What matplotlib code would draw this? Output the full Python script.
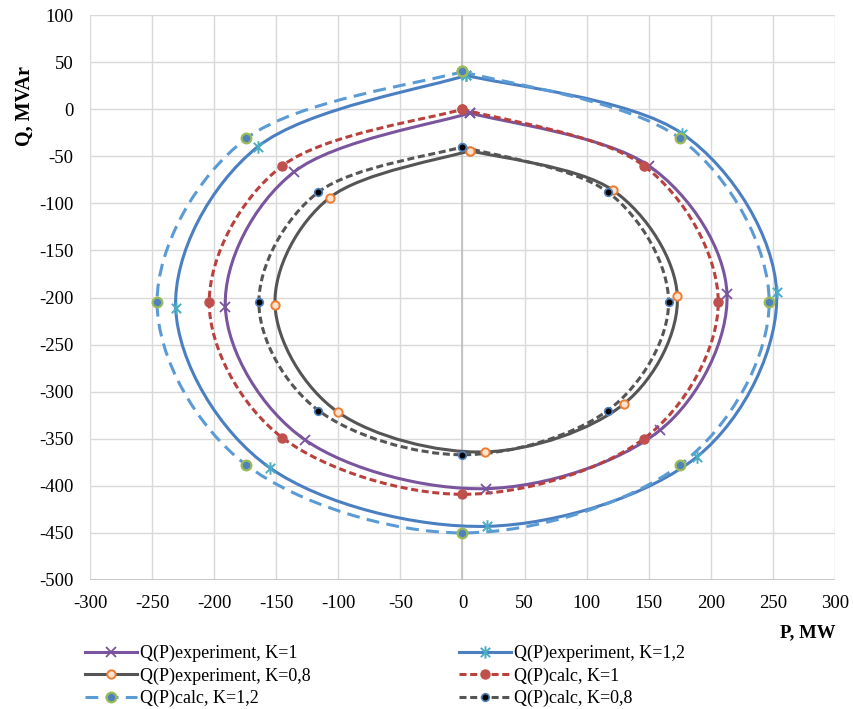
import matplotlib
matplotlib.use("Agg")
import matplotlib.pyplot as plt
from matplotlib.path import Path
from matplotlib.patches import PathPatch
from matplotlib.lines import Line2D

plt.rcParams["font.family"] = ["Liberation Serif", "DejaVu Serif"]
plt.rcParams["axes.unicode_minus"] = False

# ── Data (closed loops: top -> right -> bottom -> left -> top) ──
p_exp_k1 = [6, 150, 213, 159, 19, -127, -191, -136, 6]
q_exp_k1 = [-4, -60, -196, -341, -403, -351, -210, -67, -4]

p_exp_k12 = [3, 177, 253, 189, 20, -155, -231, -165, 3]
q_exp_k12 = [36, -26, -194, -369, -443, -381, -211, -40, 36]

p_exp_k08 = [6, 121, 173, 130, 18, -100, -151, -107, 6]
q_exp_k08 = [-44, -86, -198, -313, -364, -322, -208, -94, -44]

p_calc_k1 = [0, 146, 206, 146, 0, -145, -204, -145, 0]
q_calc_k1 = [0, -60, -205, -350, -409, -349, -205, -60, 0]

p_calc_k12 = [0, 175, 247, 175, 0, -174, -246, -174, 0]
q_calc_k12 = [40, -31, -205, -378, -450, -378, -205, -31, 40]

p_calc_k08 = [0, 117, 166, 117, 0, -116, -164, -116, 0]
q_calc_k08 = [-40, -88, -205, -320, -367, -320, -205, -88, -40]

x_ticks = list(range(-300, 301, 50))
y_ticks = list(range(-500, 101, 50))

# asterisk marker like Excel's star (vertical bar + x)
star = Path([(0, -1), (0, 1), (-0.75, -0.75), (0.75, 0.75), (-0.75, 0.75), (0.75, -0.75)],
            [Path.MOVETO, Path.LINETO] * 3)

series = [
    dict(p=p_exp_k1, q=q_exp_k1, label="Q(P)experiment, K=1", color="#7A559E",
         ls="-", marker="x", ms=7, mfc="#7A559E", mec="#7A559E", mew=1.3),
    dict(p=p_exp_k12, q=q_exp_k12, label="Q(P)experiment, K=1,2", color="#4A7FC1",
         ls="-", marker=star, ms=9, mfc="none", mec="#4BACC6", mew=1.4),
    dict(p=p_exp_k08, q=q_exp_k08, label="Q(P)experiment, K=0,8", color="#555555",
         ls="-", marker="o", ms=6, mfc="#FBE3D0", mec="#ED7D31", mew=1.4),
    dict(p=p_calc_k1, q=q_calc_k1, label="Q(P)calc, K=1", color="#B9413D",
         ls=(0, (2.3, 1.2)), marker="o", ms=6.5, mfc="#C0504D", mec="#C0504D", mew=1.0),
    dict(p=p_calc_k12, q=q_calc_k12, label="Q(P)calc, K=1,2", color="#5B9BD5",
         ls=(0, (4.2, 2.4)), marker="o", ms=7, mfc="#4F81BD", mec="#9BBB59", mew=1.6),
    dict(p=p_calc_k08, q=q_calc_k08, label="Q(P)calc, K=0,8", color="#555555",
         ls=(0, (2.3, 1.2)), marker="o", ms=5.5, mfc="#000000", mec="#4F81BD", mew=1.2),
]


def smooth_path(xs, ys):
    # Excel-style smoothed line: Bezier segments with Catmull-Rom control points
    pts = list(zip(xs, ys))
    n = len(pts)
    verts, codes = [pts[0]], [Path.MOVETO]
    for i in range(n - 1):
        p0 = pts[max(i - 1, 0)]
        p1 = pts[i]
        p2 = pts[i + 1]
        p3 = pts[min(i + 2, n - 1)]
        c1 = (p1[0] + (p2[0] - p0[0]) / 6, p1[1] + (p2[1] - p0[1]) / 6)
        c2 = (p2[0] - (p3[0] - p1[0]) / 6, p2[1] - (p3[1] - p1[1]) / 6)
        verts += [c1, c2, p2]
        codes += [Path.CURVE4] * 3
    return Path(verts, codes)


fig = plt.figure(figsize=(8.54, 7.09), dpi=100)
ax = fig.add_axes([90 / 854, 1 - 580 / 709, 745 / 854, 565 / 709])

ax.set_xlim(-300, 300)
ax.set_ylim(-500, 100)
ax.set_xticks(x_ticks)
ax.set_yticks(y_ticks)
ax.grid(True, color="#D9D9D9", linewidth=1.0)
ax.set_axisbelow(True)
for s in ax.spines.values():
    s.set_visible(False)
ax.axvline(0, color="#BFBFBF", linewidth=1.2, zorder=1)
ax.axhline(-500, color="#BFBFBF", linewidth=1.2, zorder=1)
ax.tick_params(length=0, labelsize=13.5, colors="black")
ax.tick_params(axis="x", pad=11)
ax.tick_params(axis="y", pad=12)

handles = []
for k, s in enumerate(series):
    patch = PathPatch(smooth_path(s["p"], s["q"]), fill=False, edgecolor=s["color"],
                      linewidth=2.2, linestyle=s["ls"], capstyle="butt", zorder=2 + k)
    ax.add_patch(patch)
    ax.plot(s["p"], s["q"], linestyle="none", marker=s["marker"], ms=s["ms"],
            mfc=s["mfc"], mec=s["mec"], mew=s["mew"], zorder=10 + k)
    handles.append(Line2D([], [], color=s["color"], linewidth=2.2, linestyle=s["ls"],
                          marker=s["marker"], ms=s["ms"], mfc=s["mfc"], mec=s["mec"],
                          mew=s["mew"], label=s["label"]))

fig.text(25 / 854, 1 - 106 / 709, "Q, MVAr", rotation=90, ha="center", va="center",
         fontsize=14.5, fontweight="bold")
fig.text(808 / 854, 1 - 633 / 709, "P, MW", ha="center", va="center",
         fontsize=13.5, fontweight="bold")

leg_kw = dict(frameon=False, fontsize=13, loc="upper left", borderpad=0,
              borderaxespad=0, handlelength=2.9, handletextpad=0.12,
              labelspacing=0.28, numpoints=1)
fig.legend(handles=[handles[0], handles[2], handles[4]],
           bbox_to_anchor=(85 / 854, 1 - 645 / 709), **leg_kw)
fig.legend(handles=[handles[1], handles[3], handles[5]],
           bbox_to_anchor=(459 / 854, 1 - 645 / 709), **leg_kw)

fig.savefig("out.png", dpi=100)
